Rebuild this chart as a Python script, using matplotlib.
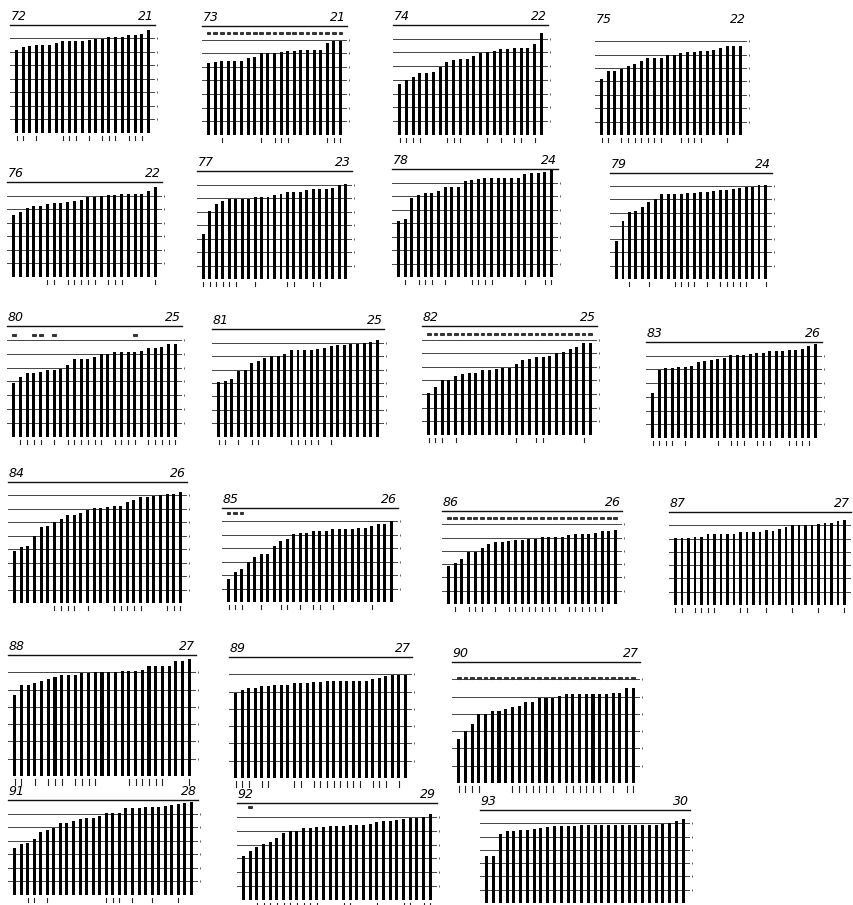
import matplotlib
matplotlib.use("Agg")
import matplotlib.pyplot as plt

W, H = 854, 905

# bar heights in grid units, one list per panel (panel label = year)
v72 = [6.14, 6.34, 6.44, 6.53, 6.53, 6.53, 6.63, 6.81, 6.81, 6.81, 6.83, 6.88, 6.93, 6.98, 7.08, 7.13, 7.08, 7.23, 7.23, 7.30, 7.62]
v73 = [5.31, 5.35, 5.45, 5.45, 5.45, 5.45, 5.62, 5.75, 5.99, 5.99, 6.04, 6.06, 6.16, 6.19, 6.23, 6.23, 6.23, 6.23, 6.72, 6.92, 6.92]
v74 = [3.71, 4.00, 4.24, 4.53, 4.53, 4.61, 4.97, 5.28, 5.45, 5.53, 5.53, 5.75, 5.99, 6.01, 6.13, 6.23, 6.23, 6.30, 6.30, 6.30, 6.62, 7.44]
v75 = [4.21, 4.78, 4.78, 4.95, 5.15, 5.32, 5.50, 5.74, 5.77, 5.77, 5.99, 5.99, 6.14, 6.19, 6.19, 6.26, 6.31, 6.39, 6.51, 6.68, 6.68, 6.68]
v76 = [4.59, 4.77, 5.08, 5.26, 5.26, 5.38, 5.46, 5.46, 5.53, 5.58, 5.65, 5.90, 5.90, 5.95, 6.02, 6.02, 6.12, 6.12, 6.12, 6.12, 6.37, 6.63]
v77 = [3.33, 5.07, 5.52, 5.76, 5.89, 5.89, 5.89, 5.89, 6.06, 6.06, 6.06, 6.21, 6.31, 6.44, 6.46, 6.46, 6.56, 6.63, 6.63, 6.63, 6.71, 6.93, 7.06]
v78 = [4.14, 4.27, 5.86, 6.11, 6.19, 6.24, 6.36, 6.67, 6.67, 6.67, 7.12, 7.17, 7.25, 7.30, 7.30, 7.30, 7.30, 7.30, 7.37, 7.63, 7.68, 7.68, 7.80, 7.95]
v79 = [2.88, 4.38, 5.08, 5.13, 5.45, 5.78, 6.03, 6.38, 6.45, 6.45, 6.45, 6.50, 6.50, 6.58, 6.58, 6.65, 6.70, 6.70, 6.78, 6.88, 6.95, 6.95, 7.08, 7.13]
v80 = [3.90, 4.29, 4.58, 4.58, 4.70, 4.82, 4.82, 4.87, 5.18, 5.59, 5.59, 5.59, 5.78, 5.98, 5.98, 6.14, 6.14, 6.14, 6.14, 6.22, 6.39, 6.39, 6.51, 6.70, 6.70]
v81 = [4.05, 4.12, 4.32, 4.86, 4.99, 5.48, 5.60, 5.85, 5.98, 5.98, 6.15, 6.47, 6.47, 6.47, 6.47, 6.54, 6.59, 6.72, 6.79, 6.79, 6.89, 6.89, 6.96, 7.04, 7.16]
v82 = [3.06, 3.55, 4.03, 4.03, 4.35, 4.47, 4.52, 4.52, 4.77, 4.77, 4.82, 4.89, 4.89, 5.21, 5.50, 5.57, 5.70, 5.70, 5.79, 5.99, 6.06, 6.28, 6.48, 6.77, 6.77]
v83 = [3.27, 4.99, 5.09, 5.09, 5.16, 5.16, 5.23, 5.53, 5.58, 5.70, 5.77, 5.85, 6.02, 6.07, 6.07, 6.14, 6.22, 6.22, 6.31, 6.31, 6.31, 6.39, 6.39, 6.51, 6.71, 6.88]
v84 = [3.90, 4.14, 4.27, 4.98, 5.62, 5.74, 6.04, 6.24, 6.53, 6.53, 6.66, 6.95, 7.03, 7.10, 7.15, 7.22, 7.22, 7.52, 7.69, 7.85, 7.90, 7.95, 8.00, 8.10, 8.10, 8.25]
v85 = [1.69, 2.23, 2.48, 2.98, 3.35, 3.55, 3.55, 4.14, 4.52, 4.71, 5.09, 5.16, 5.16, 5.26, 5.26, 5.26, 5.46, 5.46, 5.46, 5.46, 5.51, 5.51, 5.63, 5.83, 5.83, 6.03]
v86 = [2.88, 3.08, 3.38, 3.90, 3.90, 4.25, 4.53, 4.65, 4.65, 4.75, 4.83, 4.83, 4.90, 4.90, 5.03, 5.08, 5.08, 5.08, 5.20, 5.28, 5.28, 5.28, 5.38, 5.50, 5.50, 5.58]
v87 = [5.08, 5.08, 5.08, 5.13, 5.13, 5.38, 5.38, 5.38, 5.38, 5.38, 5.50, 5.50, 5.50, 5.50, 5.63, 5.58, 5.75, 5.88, 6.00, 6.00, 6.00, 6.00, 6.13, 6.18, 6.18, 6.30, 6.38]
v88 = [4.71, 5.24, 5.29, 5.37, 5.49, 5.61, 5.73, 5.85, 5.85, 5.85, 5.98, 5.98, 6.02, 6.02, 6.02, 6.02, 6.10, 6.10, 6.10, 6.15, 6.34, 6.34, 6.34, 6.39, 6.63, 6.66, 6.76]
v89 = [4.91, 5.11, 5.23, 5.23, 5.35, 5.35, 5.40, 5.40, 5.40, 5.47, 5.47, 5.47, 5.55, 5.55, 5.64, 5.64, 5.64, 5.64, 5.64, 5.64, 5.64, 5.72, 5.79, 5.89, 5.96, 5.96, 5.96]
v90 = [2.53, 3.03, 3.40, 4.02, 4.02, 4.14, 4.14, 4.27, 4.39, 4.44, 4.71, 4.71, 4.89, 4.89, 4.89, 5.01, 5.14, 5.14, 5.14, 5.14, 5.14, 5.14, 5.14, 5.19, 5.19, 5.51, 5.51]
v91 = [3.49, 3.73, 3.86, 4.13, 4.62, 4.79, 4.96, 5.28, 5.28, 5.45, 5.60, 5.70, 5.70, 5.82, 6.07, 6.07, 6.07, 6.39, 6.39, 6.39, 6.46, 6.51, 6.51, 6.56, 6.63, 6.71, 6.76, 6.88]
v92 = [3.14, 3.55, 3.79, 4.06, 4.18, 4.47, 4.83, 5.00, 5.00, 5.19, 5.19, 5.24, 5.27, 5.31, 5.31, 5.36, 5.43, 5.43, 5.43, 5.48, 5.60, 5.68, 5.68, 5.80, 5.85, 5.92, 5.92, 5.97, 6.23]
v93 = [3.51, 3.51, 5.16, 5.41, 5.45, 5.48, 5.48, 5.58, 5.65, 5.70, 5.77, 5.77, 5.77, 5.77, 5.90, 5.90, 5.90, 5.90, 5.90, 5.90, 5.90, 5.90, 5.90, 5.90, 5.90, 5.90, 5.97, 6.02, 6.14, 6.34]

# bars (1-based) carrying a small tick under the baseline
t72 = [1, 2, 4, 8, 9, 10, 12, 14, 15, 16, 18, 19, 20]
t73 = [3, 9, 11, 12, 13, 19, 20, 21]
t74 = [1, 2, 3, 4, 8, 9, 10, 14, 16, 18, 19, 21]
t75 = [1, 2, 4, 5, 6, 7, 8, 9, 10, 13, 14, 15, 16, 20]
t76 = [6, 7, 9, 10, 11, 12, 13, 15, 16, 17, 22]
t77 = [1, 2, 3, 4, 5, 6, 9, 14, 15, 18, 19]
t78 = [2, 4, 5, 6, 8, 12, 13, 14, 15, 20, 23, 24]
t79 = [3, 6, 10, 11, 12, 13, 15, 17, 18, 19, 20, 21, 24]
t80 = [2, 3, 4, 5, 7, 9, 10, 11, 12, 13, 14, 16, 17, 18, 19, 21, 22, 23, 24, 25]
t81 = [1, 2, 4, 6, 7, 12, 13, 14, 15, 16, 18]
t82 = [1, 2, 3, 5, 14, 17, 18, 24]
t83 = [1, 2, 3, 4, 6, 11, 13, 14, 15, 17, 18, 19, 22, 23, 24, 25]
t84 = [7, 8, 9, 10, 12, 16, 17, 18, 19, 20, 24, 25, 26]
t85 = [1, 2, 3, 6, 9, 10, 12, 14, 15, 17, 23]
t86 = [2, 4, 5, 6, 8, 10, 11, 12, 13, 14, 15, 16, 17, 19, 20, 21, 22, 23, 24]
t87 = [1, 2, 4, 5, 6, 7, 11, 12, 15, 19, 23, 27]
t88 = [1, 2, 4, 6, 7, 8, 10, 11, 12, 13, 18, 19, 20, 21, 22, 23, 27]
t89 = [1, 2, 3, 5, 6, 10, 11, 13, 14, 15, 16, 17, 18, 19, 20, 22, 23, 24, 26]
t90 = [1, 2, 3, 4, 9, 10, 11, 12, 13, 14, 15, 17, 18, 19, 20, 21, 22, 24, 26, 27]
t91 = [3, 4, 6, 15, 16, 17, 19, 22, 26]
t92 = [3, 4, 5, 6, 7, 8, 9, 10, 11, 12, 16, 17, 21, 25, 26, 28, 29]
t93 = [3, 4, 5, 6]

# "**" marks above bars: (bars or "all", level in grid units)
m73 = ("all", 7.46)
m80 = ([1, 4, 5, 7, 19], 7.35)
m82 = ("all", 7.41)
m85 = ([1, 2, 3], 6.63)
m86 = ("all", 6.50)
m90 = ("all", 6.08)
m92 = ([2], 6.70)

names = ["72", "73", "74", "75", "76", "77", "78", "79", "80", "81", "82",
         "83", "84", "85", "86", "87", "88", "89", "90", "91", "92", "93"]
values = [v72, v73, v74, v75, v76, v77, v78, v79, v80, v81, v82,
          v83, v84, v85, v86, v87, v88, v89, v90, v91, v92, v93]
ticks = [t72, t73, t74, t75, t76, t77, t78, t79, t80, t81, t82,
         t83, t84, t85, t86, t87, t88, t89, t90, t91, t92, t93]
marks = {"73": m73, "80": m80, "82": m82, "85": m85, "86": m86,
         "90": m90, "92": m92}

# pixel box per panel: left, right, y of top rule, y of baseline, grid steps
BOX = {
    "72": (10, 155, 25, 133, 8), "73": (202, 347, 26, 135, 8),
    "74": (393, 548, 25, 135, 8), "75": (595, 747, 28, 135, 8),
    "76": (7, 162, 182, 277, 7), "77": (197, 352, 171, 279, 8),
    "78": (392, 558, 169, 277, 8), "79": (610, 772, 173, 279, 8),
    "80": (7, 182, 326, 437, 8), "81": (212, 384, 329, 437, 8),
    "82": (422, 597, 326, 435, 8), "83": (646, 822, 342, 438, 7),
    "84": (8, 187, 482, 603, 9), "85": (222, 398, 508, 602, 7),
    "86": (442, 622, 511, 604, 7), "87": (669, 851, 512, 605, 7),
    "88": (8, 196, 655, 776, 7), "89": (229, 412, 657, 778, 7),
    "90": (452, 640, 662, 783, 7), "91": (8, 198, 800, 895, 7),
    "92": (237, 437, 803, 900, 7), "93": (480, 690, 810, 903, 7),
}
NO_RULE = {"75"}

fig = plt.figure(figsize=(W / 100, H / 100), dpi=100)
fig.patch.set_facecolor("white")

for name, vals, tk in zip(names, values, ticks):
    x0, x1, ytop, ybot, n = BOX[name]
    ax = fig.add_axes([x0 / W, 1 - ybot / H, (x1 - x0) / W, (ybot - ytop) / H])
    nb = len(vals)
    ax.set_xlim(-1.0, nb)
    ax.set_ylim(0, n)
    ax.axis("off")
    for k in range(n):
        ax.axhline(k, color="#444444", lw=0.7, zorder=1)
    # little end marks at the right of each grid line
    ax.plot([nb + 0.25] * (n - 1), list(range(1, n)), ls="", marker="|",
            ms=2, mew=0.6, color="#444444", clip_on=False)
    if name not in NO_RULE:
        ax.axhline(n, color="#111111", lw=1.0, zorder=1, clip_on=False)
    xs = list(range(nb))
    ax.bar(xs, vals, width=0.45, color="black", zorder=2, clip_on=False)
    for b in tk:
        ax.plot([b - 1, b - 1], [-0.2, -0.5], color="#222222", lw=0.8,
                clip_on=False)
    if name in marks:
        which, lvl = marks[name]
        bars = xs if which == "all" else [b - 1 for b in which]
        for b in bars:
            ax.plot([b - 0.13, b + 0.13], [lvl, lvl], ls="", marker="s",
                    ms=1.2, color="#333333", clip_on=False)
    ax.annotate(name, xy=(0, 1), xycoords="axes fraction",
                xytext=(0.5, 1.2), textcoords="offset points",
                ha="left", va="bottom", fontsize=9, style="italic")
    ax.annotate(str(nb), xy=(1, 1), xycoords="axes fraction",
                xytext=(-0.5, 1.2), textcoords="offset points",
                ha="right", va="bottom", fontsize=9, style="italic")

fig.savefig("out.png", dpi=100, facecolor="white")
